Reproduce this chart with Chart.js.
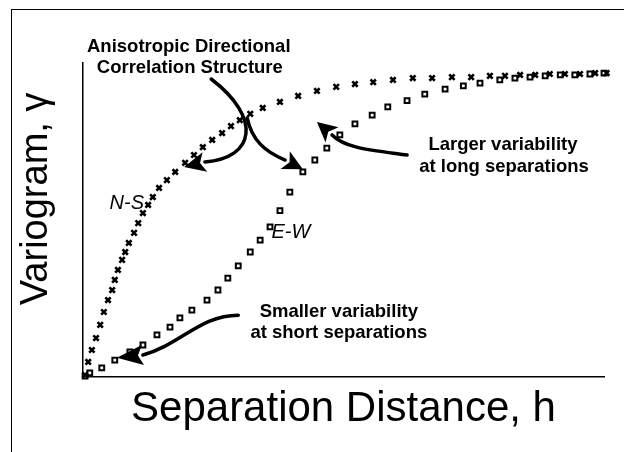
<!DOCTYPE html>
<html lang="en">
<head>
  <meta charset="UTF-8">
  <title>Variogram</title>
  <script src="https://cdn.jsdelivr.net/npm/chart.js"></script>
  <style>
    body {
      margin: 0;
      background: #fff;
    }
    .wrap {
      position: relative;
      width: 624px;
      height: 452px;
    }
    .frame {
      position: absolute;
      left: 11px;
      top: 9px;
      right: 0;
      bottom: 0;
      border-top: 1px solid #000;
      border-left: 1px solid #000;
    }
    canvas {
      position: absolute;
      left: 0;
      top: 0;
    }
  </style>
</head>
<body>

<div class="wrap">
  <div class="frame"></div>
  <canvas id="grafico" width="624" height="452"></canvas>
</div>

<script>
  // N-S direction (reaches the sill fast)
  const nsX = [0.4, 1.0, 1.7, 2.5, 3.3, 4.0, 4.8, 5.6, 6.1, 6.7, 7.5, 8.1, 8.8, 9.8, 10.6, 11.5, 12.5, 13.4,
    14.6, 16.1, 17.7, 19.6, 21.3, 23.0, 24.8, 26.7, 28.4, 30.1, 32.1, 34.5, 37.8, 41.3, 44.9, 48.6, 52.2,
    55.7, 59.5, 63.3, 67.0, 70.8, 74.5, 78.1, 81.0, 83.9, 86.8, 89.6, 92.5, 95.4, 98.3, 100.5];
  const nsY = [0.6, 4.8, 8.6, 12.4, 16.6, 20.7, 24.5, 27.7, 30.9, 34.1, 37.3, 39.8, 42.7, 45.9, 49.0, 52.2, 54.8, 57.3,
    60.2, 62.7, 65.3, 68.2, 70.7, 73.2, 75.5, 77.7, 79.9, 81.8, 83.8, 85.7, 87.6, 89.5, 91.1, 92.4, 93.3,
    93.9, 94.6, 95.2, 95.2, 95.5, 95.5, 95.9, 95.9, 96.2, 96.2, 96.5, 96.5, 96.5, 96.8, 96.8];

  // E-W direction (slow rise)
  const ewX = [0.4, 1.3, 3.6, 6.1, 9.0, 11.5, 14.2, 16.7, 18.6, 20.9, 23.8, 25.9, 27.8, 29.8, 32.1, 34.0, 35.9,
    37.8, 39.7, 42.2, 44.5, 46.8, 49.3, 52.2, 55.5, 58.5, 62.2, 65.6, 69.5, 73.0, 76.2, 80.0, 82.9, 85.8,
    88.7, 91.6, 94.4, 97.3, 100.0];
  const ewY = [0.3, 1.3, 2.9, 5.4, 8.0, 10.2, 13.4, 15.9, 18.8, 21.3, 24.5, 27.7, 31.5, 35.4, 39.8, 43.6, 47.8,
    53.0, 58.9, 65.3, 69.1, 72.9, 77.1, 80.6, 83.4, 86.0, 88.0, 90.1, 91.7, 92.7, 93.6, 94.6, 95.2, 95.5,
    95.9, 96.2, 96.2, 96.5, 96.8];

  const tituloX = "Separation Distance, h";
  const tituloY = "Variogram, \u03b3";

  const fuente = "'Liberation Sans', Arial, sans-serif";

  // notes and arrows, placed in data units
  const notas = [
    { texto: "Anisotropic Directional", x: 20.3, y: 103.5, font: "bold 18.5px" },
    { texto: "Correlation Structure", x: 20.5, y: 96.8, font: "bold 18.5px" },
    { texto: "Larger variability", x: 80.6, y: 72.3, font: "bold 18.5px" },
    { texto: "at long separations", x: 80.8, y: 65.3, font: "bold 18.5px" },
    { texto: "Smaller variability", x: 49.1, y: 19.1, font: "bold 18.5px" },
    { texto: "at short separations", x: 49.1, y: 12.4, font: "bold 18.5px" },
    { texto: "N-S", x: 8.4, y: 53.5, font: "italic 20px" },
    { texto: "E-W", x: 39.9, y: 44.3, font: "italic 20px" }
  ];

  const flechas = [
    { curva: [[24.6, 94.9], [34.4, 82.5], [33.0, 69.7], [23.4, 68.5]], punta: [19.4, 66.9] },
    { curva: [[31.5, 82.5], [32.4, 75.5], [34.9, 71.7], [38.8, 69.1]], punta: [42.2, 66.2] },
    { curva: [[62.2, 70.7], [55.1, 72.3], [50.3, 72.9], [47.8, 77.1]], punta: [44.9, 81.2] },
    { curva: [[29.8, 19.7], [22.5, 19.7], [18.6, 10.2], [11.5, 7.0]], punta: [6.5, 6.1] }
  ];

  const anotaciones = {
    id: "anotaciones",
    afterDraw(chart) {
      const { ctx, scales: { x, y } } = chart;
      const px = p => [x.getPixelForValue(p[0]), y.getPixelForValue(p[1])];
      ctx.save();
      ctx.fillStyle = "#000";
      ctx.strokeStyle = "#000";
      ctx.lineWidth = 3.5;
      ctx.lineCap = "round";

      flechas.forEach(f => {
        const p = f.curva.map(px);
        ctx.beginPath();
        ctx.moveTo(p[0][0], p[0][1]);
        ctx.bezierCurveTo(p[1][0], p[1][1], p[2][0], p[2][1], p[3][0], p[3][1]);
        ctx.stroke();

        const base = p[3];
        const tip = px(f.punta);
        const dx = tip[0] - base[0], dy = tip[1] - base[1];
        const len = Math.hypot(dx, dy);
        const ux = dx / len, uy = dy / len;
        const w = 10;
        ctx.beginPath();
        ctx.moveTo(tip[0], tip[1]);
        ctx.lineTo(base[0] - uy * w, base[1] + ux * w);
        ctx.lineTo(base[0] + ux * 5, base[1] + uy * 5);
        ctx.lineTo(base[0] + uy * w, base[1] - ux * w);
        ctx.closePath();
        ctx.fill();
      });

      ctx.textAlign = "center";
      ctx.textBaseline = "alphabetic";
      notas.forEach(n => {
        const [tx, ty] = px([n.x, n.y]);
        ctx.font = `${n.font} ${fuente}`;
        ctx.fillText(n.texto, tx, ty);
      });
      ctx.restore();
    }
  };

  const ctx = document.getElementById("grafico").getContext("2d");

  new Chart(ctx, {
    type: "scatter",
    data: {
      datasets: [
        {
          label: "N-S",
          data: nsX.map((v, i) => ({ x: v, y: nsY[i] })),
          pointStyle: "crossRot",
          pointRadius: 3.8,
          borderWidth: 2.6,
          borderColor: "#000",
          backgroundColor: "#000",
          clip: false
        },
        {
          label: "E-W",
          data: ewX.map((v, i) => ({ x: v, y: ewY[i] })),
          pointStyle: "rect",
          pointRadius: 3.4,
          borderWidth: 2,
          borderColor: "#000",
          backgroundColor: "#fff",
          clip: false
        }
      ]
    },
    options: {
      responsive: false,
      animation: false,
      devicePixelRatio: 1,
      layout: { padding: { left: 0, right: 20, top: 63, bottom: 17.6 } },
      plugins: {
        legend: { display: false },
        tooltip: { enabled: false }
      },
      scales: {
        x: {
          type: "linear",
          min: 0,
          max: 100,
          grid: { display: false, drawTicks: false },
          border: { display: true, color: "#000", width: 1.5 },
          ticks: { display: false },
          title: {
            display: true,
            text: tituloX,
            color: "#000",
            font: { family: fuente, size: 42 },
            padding: { top: 7, bottom: 0 }
          }
        },
        y: {
          type: "linear",
          min: 0,
          max: 100,
          grid: { display: false, drawTicks: false },
          border: { display: true, color: "#000", width: 1.5 },
          ticks: { display: false },
          title: {
            display: true,
            text: "    " + tituloY,
            color: "#000",
            font: { family: fuente, size: 38 },
            padding: { top: 14.2, bottom: 23.2 }
          }
        }
      }
    },
    plugins: [anotaciones]
  });
</script>
</body>
</html>
